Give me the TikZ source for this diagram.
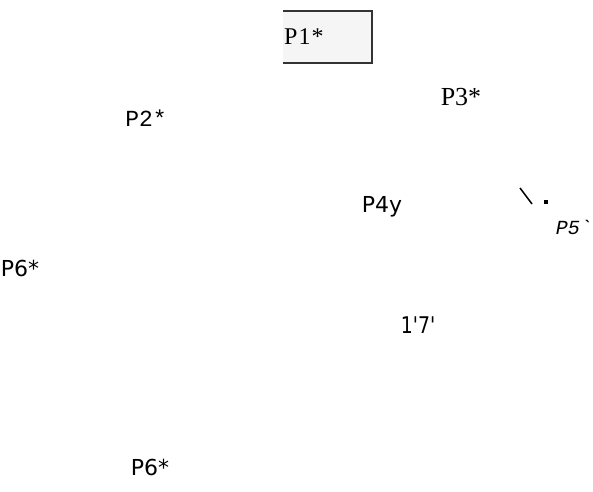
\documentclass[tikz,border=0pt]{standalone}
\usepackage{fontspec}
\setmainfont{Liberation Serif}
\newfontfamily\monofont{Liberation Mono}
\newfontfamily\sansfont{DejaVu Sans}
\newfontfamily\condfont[FakeStretch=0.82]{DejaVu Sans}
\begin{document}
\begin{tikzpicture}[x=1pt,y=-1pt,
  lbl/.style={inner sep=0pt,anchor=center},
  monol/.style={lbl,font=\monofont\fontsize{23}{25}\selectfont},
  sansl/.style={lbl,font=\sansfont\fontsize{22}{24}\selectfont},
  edge/.style={draw=black!80,line width=1.4pt}]
\useasboundingbox (0,0) rectangle (593,491);
% P1 box (left side open)
\fill[black!4] (283,11) rectangle (372,63);
\draw[edge] (283,11) -- (372,11) -- (372,63) -- (283,63);
\node[lbl,font=\fontsize{24}{26}\selectfont,anchor=west] (p1) at (284,37) {P\kern1pt1\kern1pt*};
\node[monol] (p2) at (146,118) {P2*};
\node[lbl,font=\fontsize{26}{28}\selectfont] (p3) at (461,97) {P3*};
\node[sansl] (p4) at (382,207) {P4y};
\draw[line width=1.5pt] (520,188) -- (532,204);
\fill (543.5,199.5) rectangle (547.5,203.5);
\node[lbl,font=\monofont\itshape\fontsize{20}{22}\selectfont,anchor=east] (p5) at (592,227) {P5`};
\node[sansl] (p6a) at (20,268) {P6*};
\node[lbl,font=\condfont\fontsize{23}{25}\selectfont] (p7) at (418,325) {1'7'};
\node[sansl] (p6b) at (150,467) {P6*};
\end{tikzpicture}
\end{document}
